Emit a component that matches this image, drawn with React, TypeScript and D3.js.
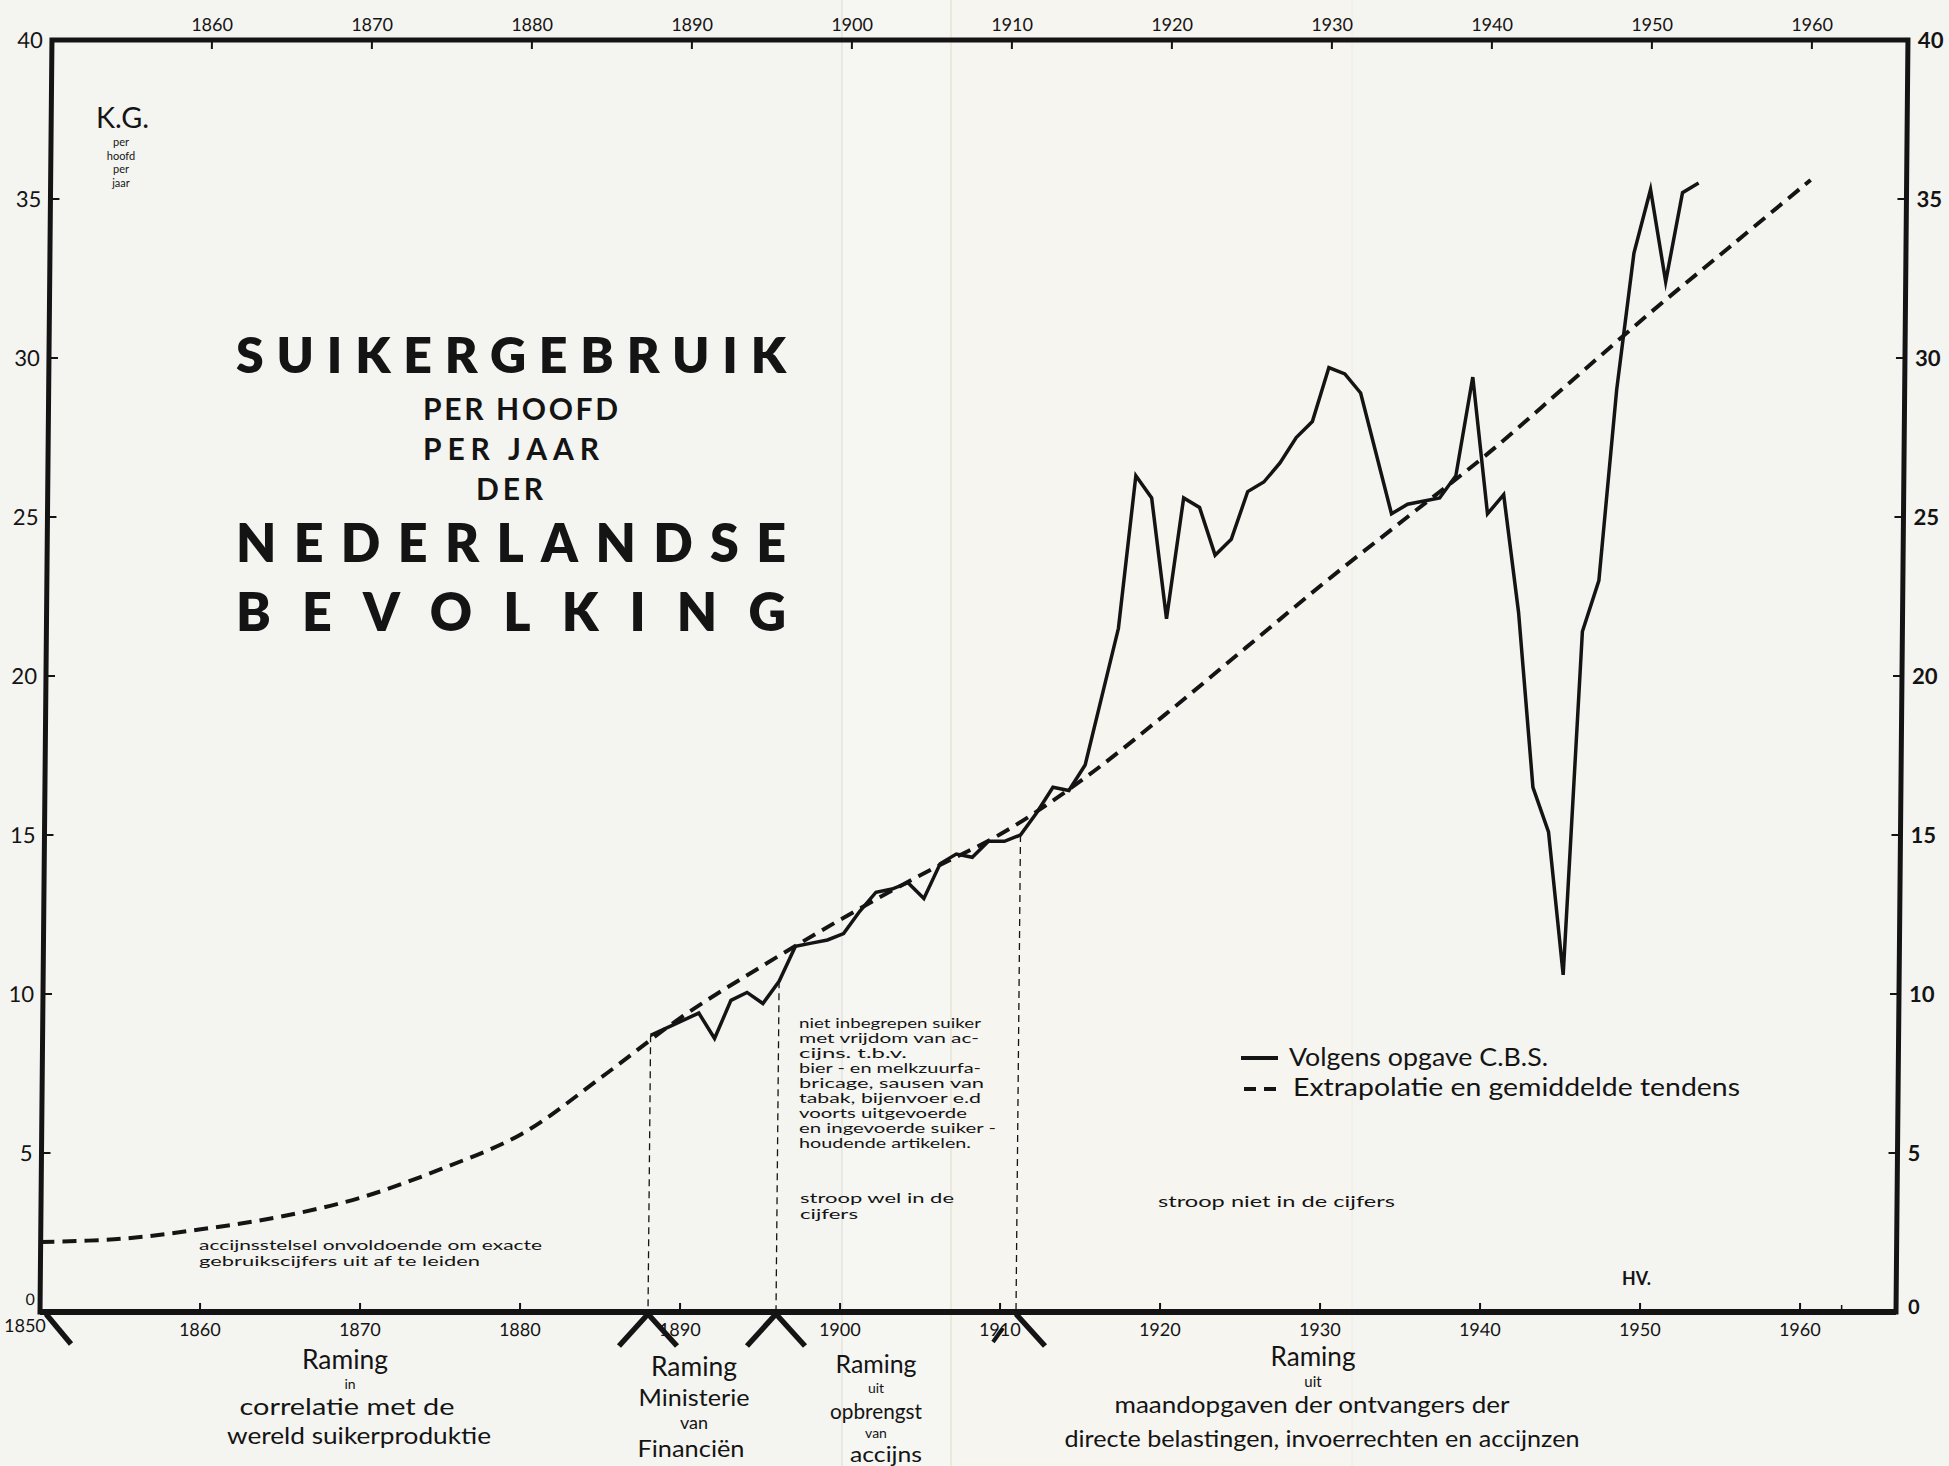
import React from 'react';
import * as d3 from 'd3';

const W = 1949;
const H = 1466;

// CBS series (solid line)
const cbsYears = [1888, 1891, 1892, 1893, 1894, 1895, 1896, 1897, 1898, 1899, 1900, 1901, 1902, 1903, 1904, 1905, 1906, 1907, 1908, 1909, 1910, 1911, 1912, 1913, 1914, 1915, 1917, 1918, 1919, 1920, 1921, 1922, 1923, 1924, 1925, 1926, 1927, 1928, 1929, 1930, 1931, 1932, 1934, 1935, 1937, 1938, 1939, 1940, 1941, 1942, 1943, 1944, 1945, 1946, 1947, 1948, 1949, 1950, 1951, 1952, 1953];
const cbsValues = [8.7, 9.4, 8.6, 9.8, 10.05, 9.7, 10.4, 11.5, 11.6, 11.7, 11.9, 12.6, 13.2, 13.3, 13.5, 13.0, 14.1, 14.4, 14.3, 14.8, 14.8, 15.0, 15.7, 16.5, 16.4, 17.2, 21.5, 26.3, 25.6, 21.8, 25.6, 25.3, 23.8, 24.3, 25.8, 26.1, 26.7, 27.5, 28.0, 29.7, 29.5, 28.9, 25.1, 25.4, 25.6, 26.3, 29.4, 25.1, 25.7, 22.0, 16.5, 15.1, 10.6, 21.4, 23.0, 29.0, 33.3, 35.3, 32.4, 35.2, 35.5];

// Extrapolation / average trend (dashed line)
const trendYears = [1850, 1855, 1860, 1865, 1870, 1875, 1880, 1885, 1890, 1895, 1900, 1905, 1910, 1915, 1920, 1925, 1930, 1935, 1940, 1945, 1950, 1955, 1960];
const trendValues = [2.2, 2.3, 2.6, 3.0, 3.6, 4.5, 5.6, 7.4, 9.3, 10.9, 12.4, 13.8, 15.1, 16.8, 18.8, 20.9, 23.0, 25.0, 27.0, 29.2, 31.4, 33.5, 35.6];

// Source boundaries (vertical dashed lines)
const boundaryYears = [1888, 1896, 1911];
const boundaryValues = [8.7, 10.4, 15.0];

const decadeTicks = [1860, 1870, 1880, 1890, 1900, 1910, 1920, 1930, 1940, 1950, 1960];
const valueTicks = [5, 10, 15, 20, 25, 30, 35, 40];

const titleBig1 = 'SUIKERGEBRUIK';
const titleSmall = ['PER HOOFD', 'PER JAAR', 'DER'];
const titleBig2 = 'NEDERLANDSE';
const titleBig3 = 'BEVOLKING';

const unitMain = 'K.G.';
const unitSub = ['per', 'hoofd', 'per', 'jaar'];

const noteEarly = ['accijnsstelsel  onvoldoende  om  exacte', 'gebruikscijfers   uit  af  te  leiden'];
const noteMid = ['niet inbegrepen  suiker', 'met  vrijdom  van  ac-', 'cijns.   t.b.v.', 'bier - en  melkzuurfa-', 'bricage,  sausen  van', 'tabak,  bijenvoer  e.d', 'voorts  uitgevoerde', 'en  ingevoerde  suiker -', 'houdende  artikelen.'];
const noteStroopWel = ['stroop  wel  in  de', 'cijfers'];
const noteStroopNiet = 'stroop  niet  in  de  cijfers';

const legendSolid = 'Volgens opgave C.B.S.';
const legendDashed = 'Extrapolatie en gemiddelde tendens';

const sourceA = ['Raming', 'in', 'correlatie  met de', 'wereld  suikerproduktie'];
const sourceB = ['Raming', 'Ministerie', 'van', 'Financiën'];
const sourceC = ['Raming', 'uit', 'opbrengst', 'van', 'accijns'];
const sourceD = ['Raming', 'uit', 'maandopgaven der  ontvangers der', 'directe  belastingen,  invoerrechten  en  accijnzen'];

const FONT = 'Lato, "Open Sans", sans-serif';
const INK = '#141414';

type Line = {
  t: string;
  x: number;
  y: number;
  s: number;
  w?: number;
  anchor?: 'start' | 'middle' | 'end';
  bold?: boolean;
  weight?: number;
  adj?: 'spacing' | 'spacingAndGlyphs';
};

function Txt({ t, x, y, s, w, anchor = 'start', bold, weight, adj = 'spacingAndGlyphs' }: Line) {
  return (
    <text
      x={x}
      y={y}
      fontSize={s}
      textAnchor={anchor}
      fontFamily={FONT}
      fontWeight={weight ?? (bold ? 700 : 400)}
      fill={INK}
      textLength={w}
      lengthAdjust={w ? adj : undefined}
    >
      {t}
    </text>
  );
}

export default function App() {
  React.useEffect(() => {
    document.body.style.margin = '0';
    document.body.style.overflow = 'hidden';
  }, []);

  const x = d3.scaleLinear().domain([1850, 1966]).range([40, 1896]);
  const y = d3.scaleLinear().domain([0, 40]).range([1312, 40]);
  const x0 = x(1850);
  const x1 = x(1966);
  const yB = y(0);
  const yT = y(40);
  const k = 0.0094;
  const shear = `matrix(1,0,${-k},1,${k * yB},0)`;

  const solid = d3
    .line<number>()
    .x((_, i) => x(cbsYears[i]))
    .y((d) => y(d))
    .curve(d3.curveLinear)(cbsValues) as string;

  const dashed = d3
    .line<number>()
    .x((_, i) => x(trendYears[i]))
    .y((d) => y(d))
    .curve(d3.curveCatmullRom.alpha(0.5))(trendValues) as string;

  const bigSpan = { x: 236, w: 550 };
  const midWidths = [182, 180, 108, 182, 185, 182, 168, 197, 172];

  return (
    <svg width={W} height={H} viewBox={`0 0 ${W} ${H}`} style={{ position: 'absolute', left: 0, top: 0, display: 'block' }}>
      {/* paper */}
      <rect x={0} y={0} width={W} height={H} fill="#f4f4f1" />
      <rect x={842} y={0} width={109} height={H} fill="#f6f6f3" />
      <rect x={951} y={0} width={401} height={H} fill="#f6f5f0" />
      <line x1={842} y1={0} x2={842} y2={H} stroke="#e4e4df" strokeWidth={1.5} />
      <line x1={951} y1={0} x2={951} y2={H} stroke="#ebe8dc" strokeWidth={2} />
      <line x1={1352} y1={0} x2={1352} y2={H} stroke="#ecebe6" strokeWidth={1} />

      <g transform={shear}>
        {/* frame */}
        <path d={`M${x0},${yT}L${x1},${yT}L${x1},${yB}L${x0},${yB}Z`} fill="none" stroke={INK} strokeWidth={5} strokeLinejoin="miter" />
        <line x1={x0} y1={yB} x2={x1} y2={yB} stroke={INK} strokeWidth={6} />

        {/* ticks */}
        {decadeTicks.map((d) => (
          <g key={'t' + d}>
            <line x1={x(d)} x2={x(d)} y1={yB} y2={yB - 9} stroke={INK} strokeWidth={2} />
            <line x1={x(d)} x2={x(d)} y1={yT} y2={yT + 9} stroke={INK} strokeWidth={2} />
            <text x={x(d)} y={yB + 24} fontSize={18} textAnchor="middle" fontFamily={FONT} fill={INK}>{d}</text>
            <text x={x(d)} y={yT - 9} fontSize={18} textAnchor="middle" fontFamily={FONT} fill={INK}>{d}</text>
          </g>
        ))}
        <line x1={x(1962.6)} x2={x(1962.6)} y1={yB} y2={yB - 7} stroke={INK} strokeWidth={1.5} />
        <text x={x0 + 6} y={yB + 20} fontSize={18} textAnchor="end" fontFamily={FONT} fill={INK}>1850</text>
        <text x={x0 - 10} y={yB - 7} fontSize={16} textAnchor="middle" fontFamily={FONT} fill={INK}>0</text>
        <text x={x1 + 12} y={yB + 2} fontSize={20} fontWeight={700} fontFamily={FONT} fill={INK}>0</text>
        {valueTicks.map((v) => (
          <g key={'v' + v}>
            {v < 40 && <line x1={x0} x2={x0 + 9} y1={y(v)} y2={y(v)} stroke={INK} strokeWidth={2} />}
            {v < 40 && <line x1={x1} x2={x1 - 9} y1={y(v)} y2={y(v)} stroke={INK} strokeWidth={2} />}
            <text x={x0 - 9} y={y(v) + 8} fontSize={22} textAnchor="end" fontFamily={FONT} fill={INK}>{v}</text>
            <text x={x1 + 10} y={y(v) + 8} fontSize={22} fontWeight={700} fontFamily={FONT} fill={INK}>{v}</text>
          </g>
        ))}

        {/* boundary markers */}
        {boundaryYears.map((b, i) => (
          <line key={'b' + b} x1={x(b)} x2={x(b)} y1={y(boundaryValues[i])} y2={yB} stroke={INK} strokeWidth={1.3} strokeDasharray="7 5" />
        ))}

        {/* data */}
        <path d={dashed} fill="none" stroke={INK} strokeWidth={4} strokeDasharray="14 8" />
        <path d={solid} fill="none" stroke={INK} strokeWidth={3.5} strokeLinejoin="miter" strokeMiterlimit={6} />
      </g>

      {/* source wedges under the axis */}
      <g stroke={INK} strokeWidth={5.5} strokeLinecap="butt">
        <line x1={x(1850) + 6} y1={yB + 2} x2={x(1850) + 31} y2={yB + 32} />
        {[1888, 1896].map((b) => (
          <g key={'w' + b}>
            <line x1={x(b)} y1={yB + 2} x2={x(b) - 29} y2={yB + 34} />
            <line x1={x(b)} y1={yB + 2} x2={x(b) + 29} y2={yB + 34} />
          </g>
        ))}
        <line x1={x(1911)} y1={yB + 2} x2={x(1911) + 29} y2={yB + 34} />
        <line x1={x(1911) - 23} y1={yB + 30} x2={x(1911) - 13} y2={yB + 16} strokeWidth={4} />
      </g>

      {/* title */}
      <Txt t={titleBig1} x={bigSpan.x} y={373} s={50} w={bigSpan.w} weight={800} adj="spacing" />
      <Txt t={titleSmall[0]} x={423} y={420} s={30} w={195} bold adj="spacing" />
      <Txt t={titleSmall[1]} x={423} y={460} s={30} w={176} bold adj="spacing" />
      <Txt t={titleSmall[2]} x={476} y={500} s={30} w={67} bold adj="spacing" />
      <Txt t={titleBig2} x={bigSpan.x} y={562} s={52} w={bigSpan.w} weight={800} adj="spacing" />
      <Txt t={titleBig3} x={bigSpan.x} y={631} s={52} w={bigSpan.w} weight={800} adj="spacing" />

      {/* unit */}
      <Txt t={unitMain} x={96} y={128} s={28} w={53} />
      {unitSub.map((u, i) => (
        <Txt key={'u' + i} t={u} x={121} y={146 + i * 13.5} s={11} anchor="middle" />
      ))}

      {/* notes */}
      <Txt t={noteEarly[0]} x={199} y={1250} s={13.2} w={343} />
      <Txt t={noteEarly[1]} x={199} y={1266} s={13.2} w={281} />
      {noteMid.map((l, i) => (
        <Txt key={'n' + i} t={l} x={799} y={1028 + i * 15} s={12.4} w={midWidths[i]} />
      ))}
      <Txt t={noteStroopWel[0]} x={800} y={1203} s={13.2} w={154} />
      <Txt t={noteStroopWel[1]} x={800} y={1219} s={13.2} w={58} />
      <Txt t={noteStroopNiet} x={1158} y={1207} s={15} w={237} />

      {/* legend */}
      <line x1={1241} x2={1278} y1={1058} y2={1058} stroke={INK} strokeWidth={4} />
      <Txt t={legendSolid} x={1289} y={1066} s={25} w={259} />
      <line x1={1244} x2={1278} y1={1089} y2={1089} stroke={INK} strokeWidth={4} strokeDasharray="12 8" />
      <Txt t={legendDashed} x={1293} y={1096} s={25} w={447} />

      <Txt t="HV." x={1622} y={1285} s={18} w={29} bold />

      {/* sources */}
      <Txt t={sourceA[0]} x={345} y={1369} s={26} w={86} anchor="middle" />
      <Txt t={sourceA[1]} x={350} y={1389} s={14} anchor="middle" />
      <Txt t={sourceA[2]} x={347} y={1415} s={23} w={215} anchor="middle" />
      <Txt t={sourceA[3]} x={359} y={1444} s={23} w={264} anchor="middle" />

      <Txt t={sourceB[0]} x={694} y={1376} s={26} w={86} anchor="middle" />
      <Txt t={sourceB[1]} x={694} y={1406} s={24} w={111} anchor="middle" />
      <Txt t={sourceB[2]} x={694} y={1429} s={18} anchor="middle" />
      <Txt t={sourceB[3]} x={691} y={1457} s={24} w={107} anchor="middle" />

      <Txt t={sourceC[0]} x={876} y={1373} s={25} w={81} anchor="middle" />
      <Txt t={sourceC[1]} x={876} y={1393} s={14} anchor="middle" />
      <Txt t={sourceC[2]} x={876} y={1419} s={22} w={92} anchor="middle" />
      <Txt t={sourceC[3]} x={876} y={1438} s={14} anchor="middle" />
      <Txt t={sourceC[4]} x={886} y={1462} s={21} w={72} anchor="middle" />

      <Txt t={sourceD[0]} x={1313} y={1366} s={26} w={85} anchor="middle" />
      <Txt t={sourceD[1]} x={1313} y={1387} s={15} anchor="middle" />
      <Txt t={sourceD[2]} x={1312} y={1413} s={23} w={395} anchor="middle" />
      <Txt t={sourceD[3]} x={1322} y={1447} s={23} w={515} anchor="middle" />
    </svg>
  );
}
